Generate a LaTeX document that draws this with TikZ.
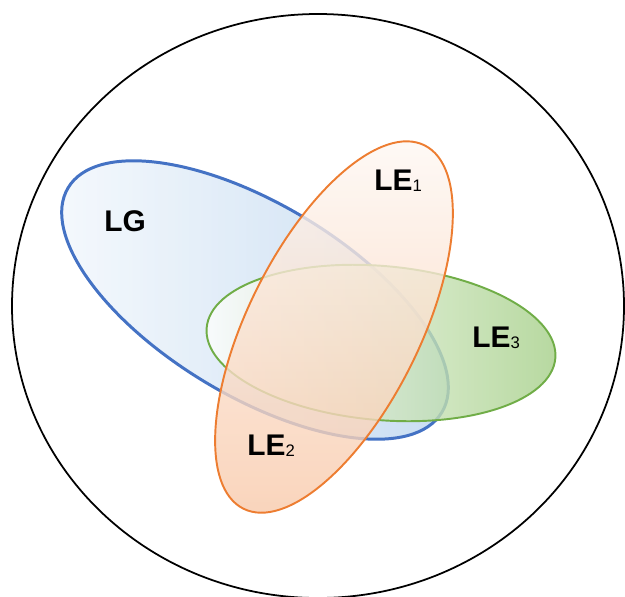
\documentclass[tikz,border=0pt]{standalone}
\usepackage{fontspec}
\setmainfont{Liberation Sans}
\usepackage{tikz}
\usetikzlibrary{calc}

\definecolor{lgblue}{RGB}{68,114,196}
\definecolor{lgfill}{RGB}{184,211,238}
\definecolor{leorange}{RGB}{237,125,49}
\definecolor{lefill}{RGB}{248,200,168}
\definecolor{legreen}{RGB}{112,173,71}
\definecolor{legfill}{RGB}{165,207,136}

\tikzset{
  setshape/.style={line width=1.1pt, fill opacity=0.8},
  setlabel/.style={anchor=base west, inner sep=0pt, font=\fontsize{17}{18}\selectfont\bfseries},
}
\newcommand{\subdig}[1]{\raisebox{-0.8pt}{\fontsize{9.5}{10}\selectfont\mdseries #1}}

\begin{document}
\begin{tikzpicture}[x=0.02cm,y=-0.02cm]
\useasboundingbox (0,0) rectangle (625,596);
\coordinate (lg) at (255,300);
\coordinate (le12) at (334,327);
\coordinate (le3) at (381,343);
\draw[line width=1pt] (318,306) ellipse [x radius=306, y radius=292];
\shade[setshape, draw=lgblue, line width=1.7pt, left color=lgfill!15, right color=lgfill, rotate around={-31:(lg)}] (lg) ellipse [x radius=218, y radius=96];
\shade[setshape, draw=legreen, left color=white, right color=legfill, rotate around={-5:(le3)}] (le3) ellipse [x radius=175, y radius=77];
\shade[setshape, draw=leorange, top color=lefill!10, bottom color=lefill, rotate around={63.5:(le12)}] (le12) ellipse [x radius=203, y radius=86];
\node[setlabel] (lgtext) at (104,231) {LG};
\node[setlabel] (le1text) at (374,190) {LE\subdig{1}};
\node[setlabel] (le2text) at (247,455) {LE\subdig{2}};
\node[setlabel] (le3text) at (472,347) {LE\subdig{3}};
\end{tikzpicture}
\end{document}
